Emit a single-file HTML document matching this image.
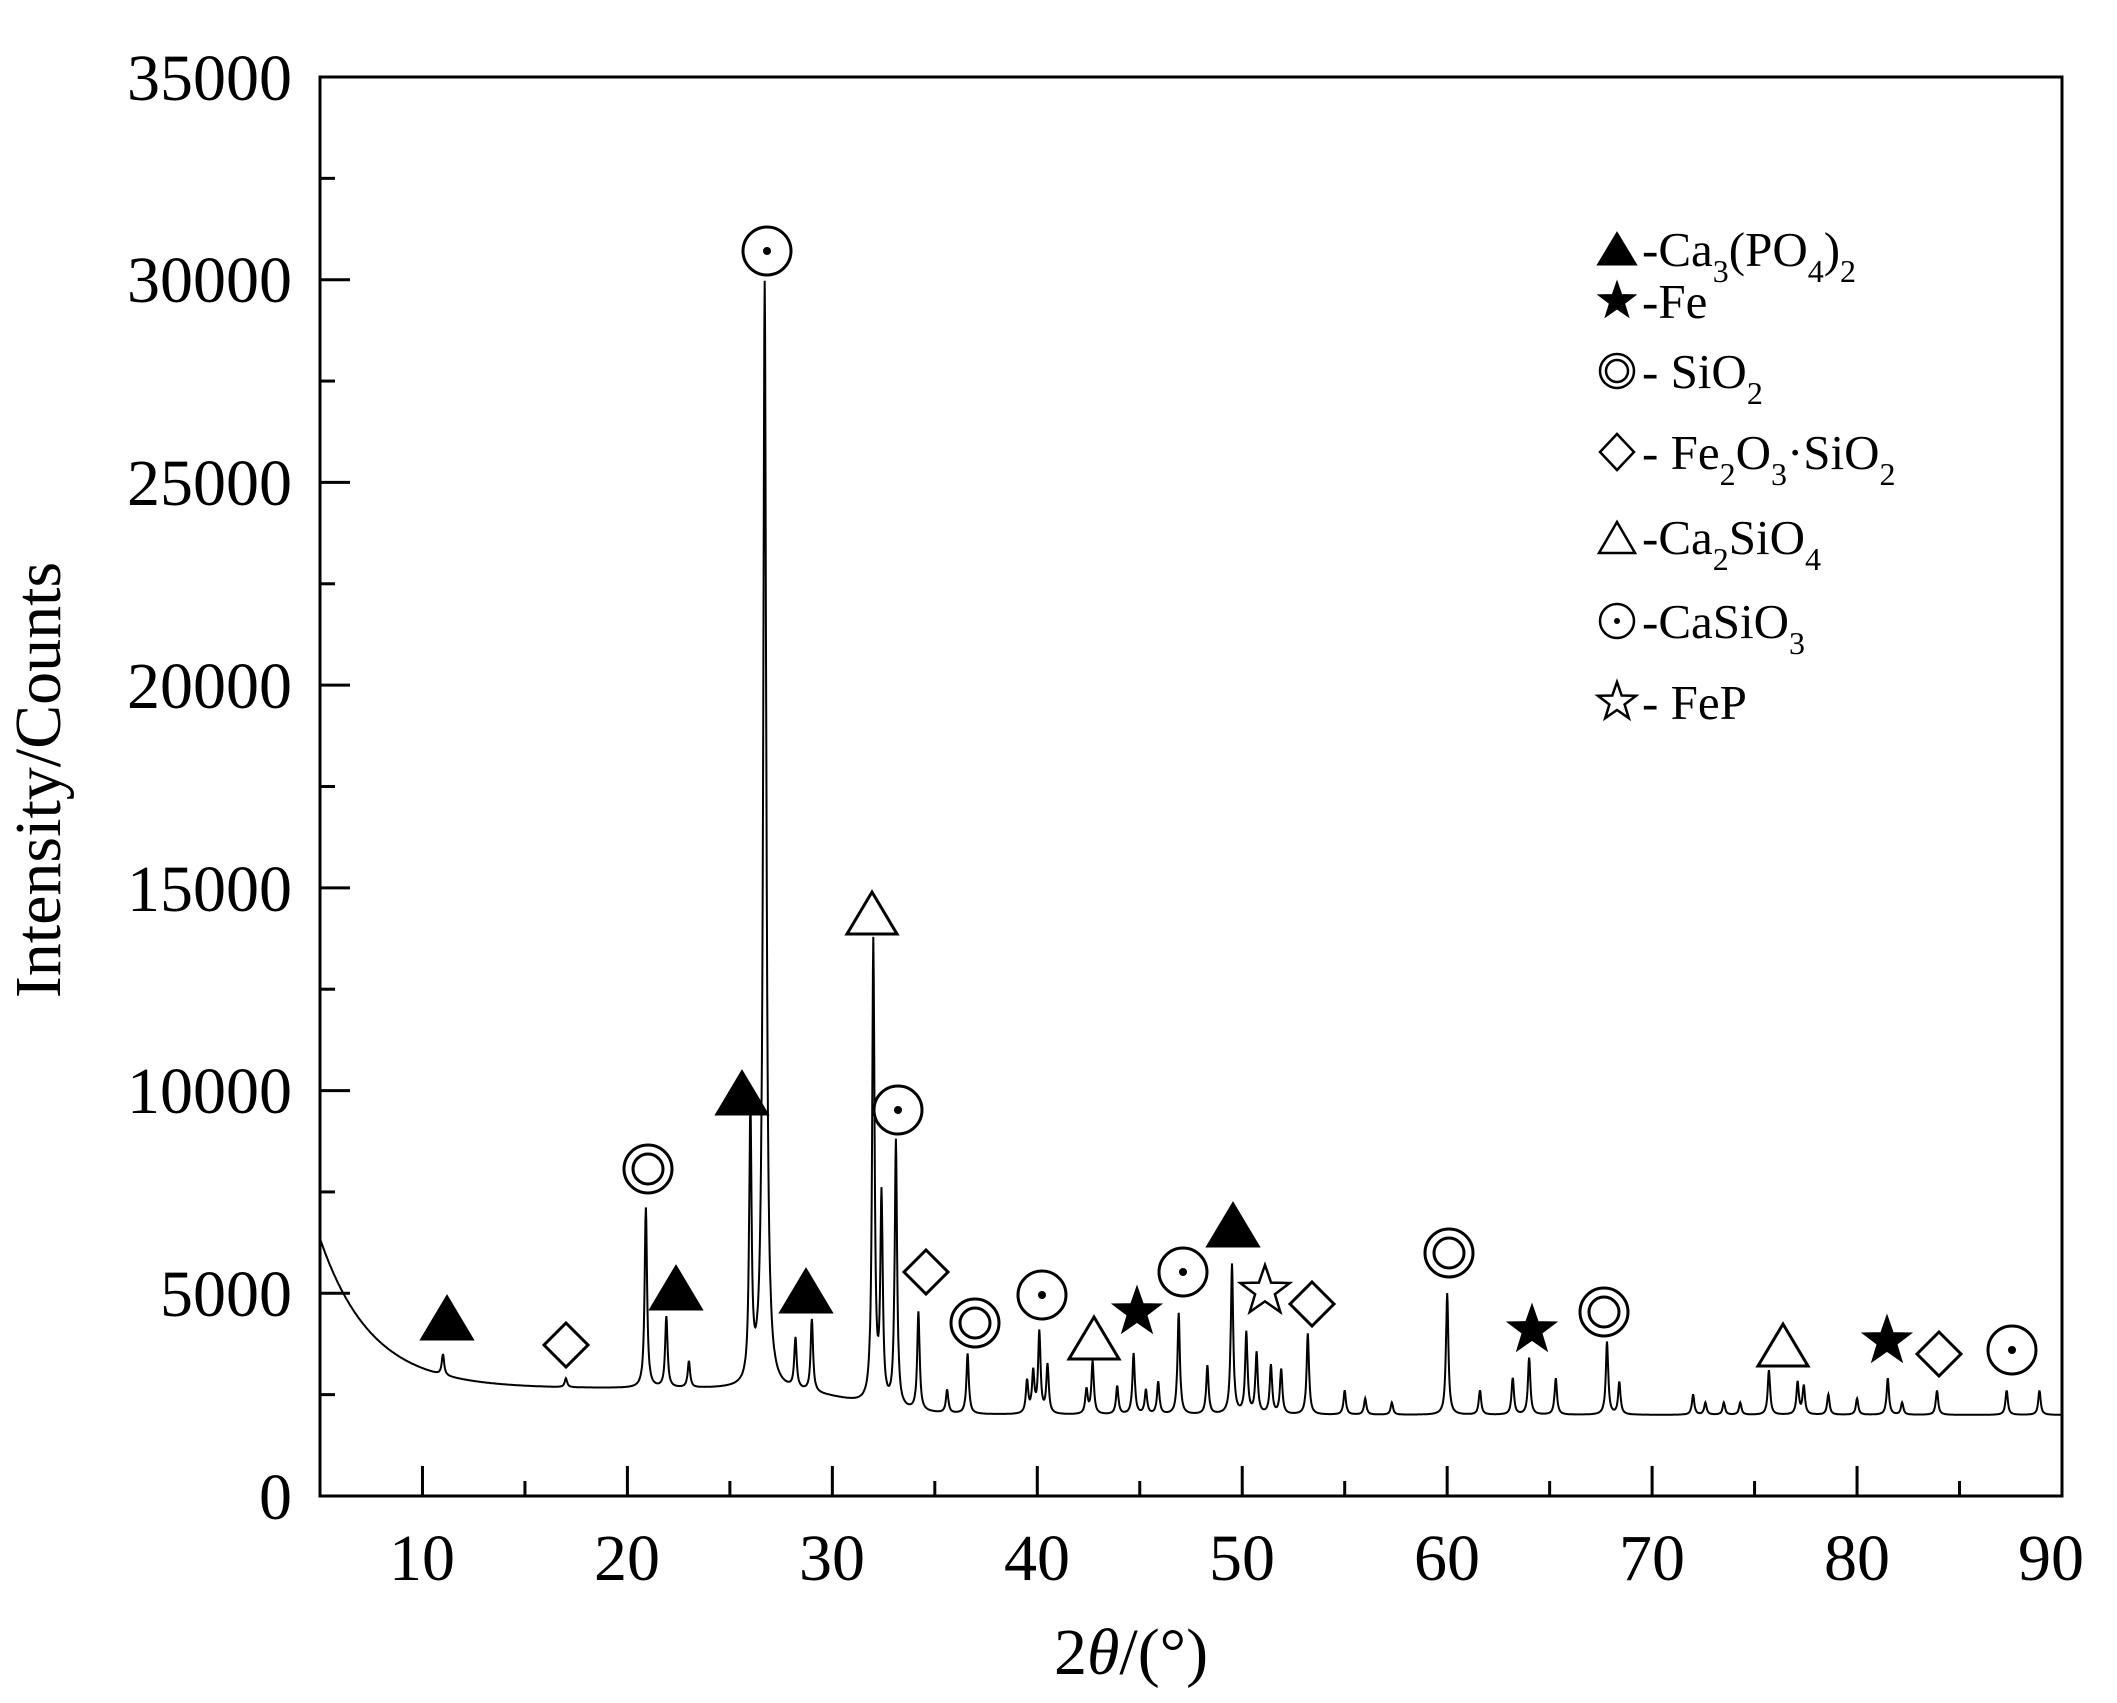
<!DOCTYPE html>
<html><head><meta charset="utf-8"><style>
html,body{margin:0;padding:0;background:#fff;}
svg{display:block;font-family:"Liberation Serif",serif;}
</style></head><body>
<svg id="s" width="2117" height="1703" viewBox="0 0 2117 1703" xmlns="http://www.w3.org/2000/svg">
<rect width="2117" height="1703" fill="#fff"/>
<path id="trace" d="" fill="none" stroke="#000" stroke-width="2"/>
<rect x="320" y="77" width="1742" height="1419" fill="none" stroke="#000" stroke-width="3"/>
<g id="ticks" stroke="#000" stroke-width="3"></g>
<g font-size="66" text-anchor="end" fill="#000">
<text x="292" y="1519">0</text>
<text x="292" y="1316">5000</text>
<text x="292" y="1113">10000</text>
<text x="292" y="911">15000</text>
<text x="292" y="708">20000</text>
<text x="292" y="505">25000</text>
<text x="292" y="302">30000</text>
<text x="292" y="100">35000</text>
</g>
<g font-size="66" text-anchor="middle" fill="#000">
<text x="422" y="1580">10</text>
<text x="627" y="1580">20</text>
<text x="832" y="1580">30</text>
<text x="1037" y="1580">40</text>
<text x="1242" y="1580">50</text>
<text x="1447" y="1580">60</text>
<text x="1652" y="1580">70</text>
<text x="1857" y="1580">80</text>
<text x="2051" y="1580">90</text>
<text x="1131" y="1674">2<tspan font-style="italic">θ</tspan>/(°)</text>
<text transform="translate(60,780) rotate(-90)">Intensity/Counts</text>
</g>
<g id="marks" stroke="#000" stroke-width="3" fill="none"></g>
<g font-size="49" fill="#000">
<text x="1642" y="266">-Ca<tspan font-size="32" dy="16">3</tspan><tspan dy="-16">(PO</tspan><tspan font-size="32" dy="16">4</tspan><tspan dy="-16">)</tspan><tspan font-size="32" dy="16">2</tspan></text>
<text x="1642" y="318">-Fe</text>
<text x="1642" y="388">- SiO<tspan font-size="32" dy="16">2</tspan></text>
<text x="1642" y="469">- Fe<tspan font-size="32" dy="16">2</tspan><tspan dy="-16">O</tspan><tspan font-size="32" dy="16">3</tspan><tspan dy="-16">·SiO</tspan><tspan font-size="32" dy="16">2</tspan></text>
<text x="1642" y="554">-Ca<tspan font-size="32" dy="16">2</tspan><tspan dy="-16">SiO</tspan><tspan font-size="32" dy="16">4</tspan></text>
<text x="1642" y="638">-CaSiO<tspan font-size="32" dy="16">3</tspan></text>
<text x="1642" y="719">- FeP</text>
</g>
</svg>
<script>
(function(){
var X=function(t){return 320+(t-5)*20.494;};
var Y=function(v){return 1496-v*0.040543;};
function b(t){return 2000+3700*Math.exp(-(t-5)/2.5)+650/(1+Math.exp((t-31)/1.5));}
var P=[[11.0,3500],[17.0,2900],[20.9,7100],[21.9,4400],[23.0,3300],[26.0,9300],[26.7,29900],[28.2,3800],[29.0,4300],
[32.0,13600],[32.4,7200],[33.1,8700],[34.2,4500],[35.6,2600],[36.6,3500],[39.5,2800],[39.8,3000],[40.1,4000],[40.5,3200],
[42.4,2600],[42.7,3300],[43.9,2700],[44.7,3500],[45.3,2600],[45.9,2800],[46.9,4500],[48.3,3200],[49.5,5700],[50.2,4000],
[50.7,3500],[51.4,3200],[51.9,3100],[53.2,4000],[55.0,2600],[56.0,2400],[57.3,2300],[60.0,5000],[61.6,2600],[63.2,2900],
[64.0,3400],[65.3,2900],[67.8,3800],[68.4,2800],[72.0,2500],[72.6,2300],[73.5,2300],[74.3,2300],[75.7,3100],[77.1,2800],
[77.4,2700],[78.6,2500],[80.0,2400],[81.5,2900],[82.2,2300],[83.9,2600],[87.3,2600],[88.9,2600]];
var d="";
for(var t=5;t<=90.001;t+=0.02){
 var v=b(t);
 for(var i=0;i<P.length;i++){var p=P[i];var a=p[1]-b(p[0]);var w=(p[0]==26.7?0.09:0.07);var x=(t-p[0])/w;v+=a/(1+x*x);}
 d+=(d?"L":"M")+X(t).toFixed(1)+" "+Y(v).toFixed(1);
}
document.getElementById("trace").setAttribute("d",d);
var tk="";
for(var t=10;t<90;t+=5){var x=X(t);tk+='<line x1="'+x+'" y1="1496" x2="'+x+'" y2="'+(t%10==0?1466:1481)+'"/>';}
for(var v=2500;v<35000;v+=2500){var y=Y(v);tk+='<line x1="320" y1="'+y+'" x2="'+(v%5000==0?350:335)+'" y2="'+y+'"/>';}
document.getElementById("ticks").innerHTML=tk;
function tri(x,y,f){return '<polygon points="'+(x-25)+','+(y+20)+' '+(x+25)+','+(y+20)+' '+x+','+(y-22)+'" fill="'+(f?"#000":"#fff")+'"/>';}
function dia(x,y){return '<polygon points="'+x+','+(y-22)+' '+(x+22)+','+y+' '+x+','+(y+22)+' '+(x-22)+','+y+'" fill="#fff"/>';}
function dc(x,y){return '<circle cx="'+x+'" cy="'+y+'" r="24" fill="#fff"/><circle cx="'+x+'" cy="'+y+'" r="15"/>';}
function cd(x,y){return '<circle cx="'+x+'" cy="'+y+'" r="24" fill="#fff"/><circle cx="'+x+'" cy="'+y+'" r="4" fill="#000" stroke="none"/>';}
function star(x,y,f,r){r=r||26;var s="";for(var i=0;i<10;i++){var rr=i%2?r*0.4:r;var a=-Math.PI/2+i*Math.PI/5;s+=(x+rr*Math.cos(a)).toFixed(1)+","+(y+rr*Math.sin(a)).toFixed(1)+" ";}
 return '<polygon points="'+s+'" fill="'+(f?"#000":"#fff")+'" stroke-width="'+(f?1:2.5)+'"/>';}
var m="";
m+=tri(447,1319,1)+dia(566,1345)+dc(648,1169)+tri(676,1289,1)+tri(742,1094,1)+cd(767,251)+tri(806,1292,1)+tri(872,914,0)+cd(898,1110)
+dia(926,1272)+dc(975,1323)+cd(1042,1295)+tri(1094,1339,0)+star(1137,1312,1)+cd(1183,1272)+tri(1233,1226,1)+star(1265,1291,0)+dia(1312,1304)
+dc(1449,1253)+star(1532,1330,1)+dc(1604,1312)+tri(1783,1346,0)+star(1887,1341,1)+dia(1939,1354)+cd(2012,1350);
m+='<polygon points="1599,264 1635,264 1617,234" fill="#000"/>';
m+=star(1617,301,1,20);
m+='<circle cx="1617" cy="371" r="17" stroke-width="2.5"/><circle cx="1617" cy="371" r="11" stroke-width="2.5"/>';
m+='<polygon points="1617,434 1634,452 1617,470 1600,452" stroke-width="2.5"/>';
m+='<polygon points="1599,553 1635,553 1617,522" stroke-width="2.5"/>';
m+='<circle cx="1617" cy="621" r="17" stroke-width="2.5"/><circle cx="1617" cy="621" r="3" fill="#000" stroke="none"/>';
m+=star(1617,702,0,20);
document.getElementById("marks").innerHTML=m;
})();
</script>
</body></html>
